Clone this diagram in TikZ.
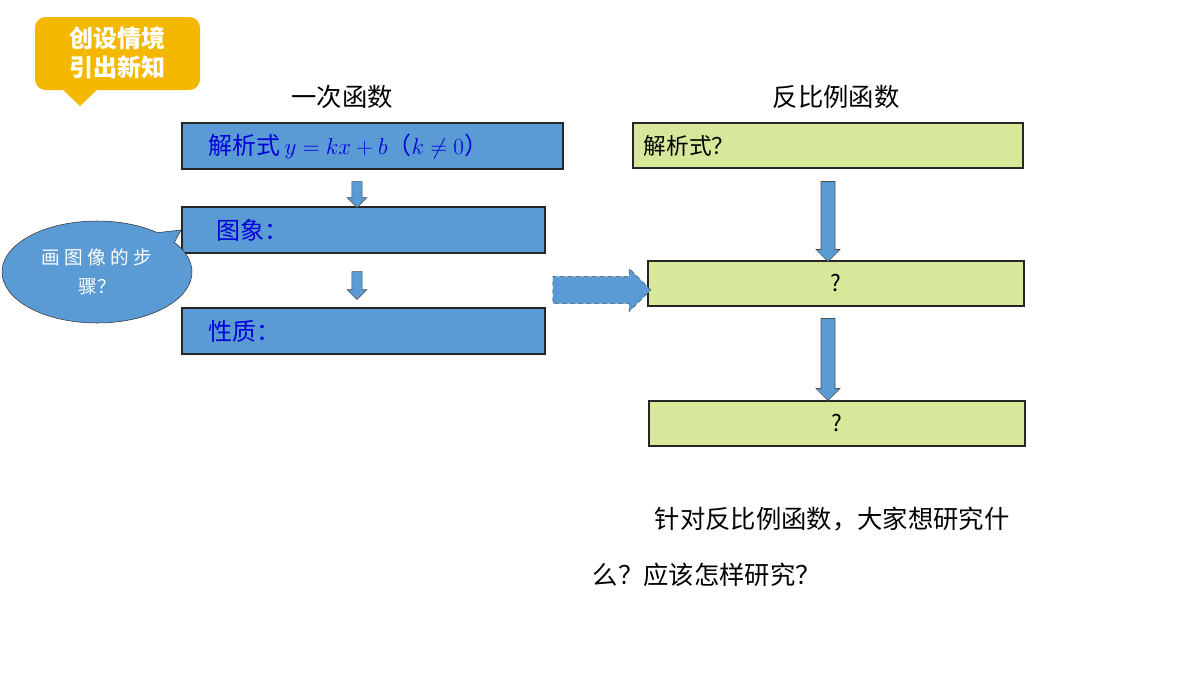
\documentclass[tikz,border=0pt]{standalone}
\usepackage{fontspec}
\setmainfont{Noto Sans CJK SC}
\usetikzlibrary{shapes.arrows,shapes.callouts,positioning}
\definecolor{boxblue}{HTML}{5B9BD5}
\definecolor{boxgreen}{HTML}{D7E89B}
\definecolor{badge}{HTML}{F5B800}
\tikzset{
  lbox/.style={draw=black!85,line width=1.5pt,fill=boxblue,anchor=north west,inner sep=0pt,font=\fontsize{18}{20}\selectfont,text=blue!85!black},
  rbox/.style={draw=black!85,line width=1.5pt,fill=boxgreen,anchor=north west,inner sep=0pt,font=\fontsize{17}{20}\selectfont},
  down/.style={single arrow,draw=black!70,fill=boxblue,rotate=-90,inner xsep=0pt,single arrow head extend=3pt,minimum height=#1},
}
\begin{document}
\begin{tikzpicture}[x=0.75pt,y=-0.75pt]
    \useasboundingbox (0,0) rectangle (1200,675);
    %badge
    \fill[badge,rounded corners=8pt] (35,17) rectangle (200,90);
    \fill[badge] (62,89) -- (98,89) -- (80,106) -- cycle;
    \node[font=\bfseries\fontsize{18}{22}\selectfont,text=white,align=center] (badge) at (117,53) {创设情境\\引出新知};
    %titles
    \node[font=\fontsize{19}{20}\selectfont] (t1) at (342,97) {一次函数};
    \node[font=\fontsize{19}{20}\selectfont] (t2) at (836,97) {反比例函数};
    %left boxes
    \node[lbox,minimum width=381*0.75pt,minimum height=46*0.75pt,text width=381*0.75pt] (jx) at (181,122) {\hspace{20pt}解析式\,$y=kx+b$（$k\neq0$）};
    \node[lbox,minimum width=363*0.75pt,minimum height=46*0.75pt,text width=363*0.75pt] (tx) at (181,206) {\hspace{26pt}图象：};
    \node[lbox,minimum width=363*0.75pt,minimum height=46*0.75pt,text width=363*0.75pt] (xz) at (181,307) {\hspace{20pt}性质：};
    %right boxes
    \node[rbox,minimum width=390*0.75pt,minimum height=45*0.75pt,text width=390*0.75pt] (rjx) at (632,122) {\hspace{8pt}解析式？};
    \node[rbox,minimum width=376*0.75pt,minimum height=45*0.75pt,align=center] (r2) at (647,260) {?};
    \node[rbox,minimum width=376*0.75pt,minimum height=45*0.75pt,align=center] (r3) at (648,400) {?};
    %arrows
    \node[down=26*0.75pt,inner ysep=3pt,minimum width=20*0.75pt] (a1) at (357,192) {};
    \node[down=28*0.75pt,inner ysep=3pt,minimum width=20*0.75pt] (a2) at (357,283) {};
    \node[down=80*0.75pt,inner ysep=4pt,minimum width=24*0.75pt] (a3) at (828,218) {};
    \node[down=82*0.75pt,inner ysep=4pt,minimum width=24*0.75pt] (a4) at (828,356) {};
    \node[single arrow,draw=black!70,dashed,fill=boxblue,inner xsep=0pt,inner ysep=10pt,minimum height=98*0.75pt,single arrow head extend=6pt] (big) at (595,290) {};
    %callout
    \node[ellipse callout,draw=black!80,fill=boxblue,minimum width=190*0.75pt,minimum height=102*0.75pt,callout absolute pointer={(tx.west)},text=white,align=center,font=\fontsize{14}{22}\selectfont] (bub) at (97,272) {画 图 像 的 步\\骤？};
    %question
    \node[font=\fontsize{19}{20}\selectfont,anchor=west] (q1) at (650,519) {针对反比例函数，大家想研究什};
    \node[font=\fontsize{19}{20}\selectfont,anchor=west] (q2) at (588,575) {么？应该怎样研究？};
\end{tikzpicture}
\end{document}
